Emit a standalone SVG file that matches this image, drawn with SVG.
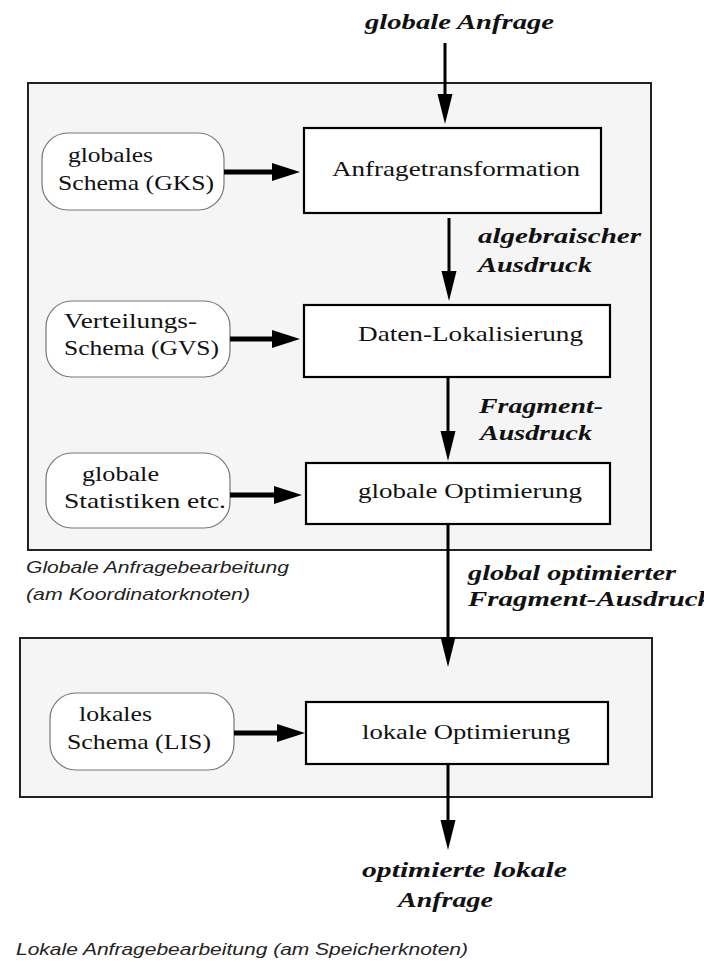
<svg xmlns="http://www.w3.org/2000/svg" width="704" height="966" viewBox="0 0 704 966">
  <style>
    .frame { fill: #f5f5f5; stroke: #222; stroke-width: 2; }
    .proc { fill: #ffffff; stroke: #000; stroke-width: 2.2; }
    .src { fill: #ffffff; stroke: #777; stroke-width: 1.2; }
    .t { font-family: "Liberation Serif", "Times New Roman", serif; font-size: 21px; fill: #111; }
    .lbl { font-family: "Liberation Serif", "Times New Roman", serif; font-size: 20px; font-weight: bold; font-style: italic; fill: #111; }
    .cap { font-family: "Liberation Sans", Arial, sans-serif; font-size: 17px; font-style: italic; fill: #222; }
    .vline { stroke: #000; stroke-width: 3; fill: none; }
    .hline { stroke: #000; stroke-width: 5; fill: none; }
  </style>
  <defs>
    <marker id="headV" markerUnits="userSpaceOnUse" markerWidth="30" markerHeight="16" refX="3" refY="8" orient="auto">
      <path d="M0,0.5 L30,8 L0,15.5 z" fill="#000"/>
    </marker>
    <marker id="headH" markerUnits="userSpaceOnUse" markerWidth="28" markerHeight="18" refX="3" refY="9" orient="auto">
      <path d="M0,0 L28,9 L0,18 z" fill="#000"/>
    </marker>
  </defs>

  <!-- background -->
  <rect x="0" y="0" width="704" height="966" fill="#ffffff"/>

  <!-- region frames -->
  <g id="global-frame">
    <rect class="frame" x="28" y="83" width="623" height="467"/>
    <text class="cap" x="26" y="573" textLength="263" lengthAdjust="spacingAndGlyphs">Globale Anfragebearbeitung</text>
    <text class="cap" x="26" y="600" textLength="224" lengthAdjust="spacingAndGlyphs">(am Koordinatorknoten)</text>
  </g>
  <g id="local-frame">
    <rect class="frame" x="20" y="638" width="632" height="159"/>
    <text class="cap" x="16" y="955" textLength="452" lengthAdjust="spacingAndGlyphs">Lokale Anfragebearbeitung (am Speicherknoten)</text>
  </g>

  <!-- processing steps -->
  <g id="anfragetransformation">
    <rect class="proc" x="304" y="128" width="297" height="85"/>
    <text class="t" x="332" y="176" textLength="248" lengthAdjust="spacingAndGlyphs">Anfragetransformation</text>
  </g>
  <g id="daten-lokalisierung">
    <rect class="proc" x="304" y="305" width="306" height="72"/>
    <text class="t" x="358" y="341" textLength="225" lengthAdjust="spacingAndGlyphs">Daten-Lokalisierung</text>
  </g>
  <g id="globale-optimierung">
    <rect class="proc" x="306" y="463" width="304" height="61"/>
    <text class="t" x="358" y="498" textLength="224" lengthAdjust="spacingAndGlyphs">globale Optimierung</text>
  </g>
  <g id="lokale-optimierung">
    <rect class="proc" x="306" y="702" width="302" height="62"/>
    <text class="t" x="362" y="739" textLength="208" lengthAdjust="spacingAndGlyphs">lokale Optimierung</text>
  </g>

  <!-- metadata sources -->
  <g id="gks">
    <rect class="src" x="42" y="133" width="182" height="77" rx="26" ry="26"/>
    <text class="t" x="68" y="162" textLength="85" lengthAdjust="spacingAndGlyphs">globales</text>
    <text class="t" x="58" y="190" textLength="156" lengthAdjust="spacingAndGlyphs">Schema (GKS)</text>
  </g>
  <g id="gvs">
    <rect class="src" x="46" y="301" width="184" height="76" rx="26" ry="26"/>
    <text class="t" x="64" y="328" textLength="133" lengthAdjust="spacingAndGlyphs">Verteilungs-</text>
    <text class="t" x="64" y="355" textLength="155" lengthAdjust="spacingAndGlyphs">Schema (GVS)</text>
  </g>
  <g id="statistiken">
    <rect class="src" x="46" y="453" width="184" height="75" rx="26" ry="26"/>
    <text class="t" x="82" y="481" textLength="77" lengthAdjust="spacingAndGlyphs">globale</text>
    <text class="t" x="64" y="508" textLength="162" lengthAdjust="spacingAndGlyphs">Statistiken etc.</text>
  </g>
  <g id="lis">
    <rect class="src" x="50" y="693" width="184" height="77" rx="26" ry="26"/>
    <text class="t" x="79" y="721" textLength="73" lengthAdjust="spacingAndGlyphs">lokales</text>
    <text class="t" x="67" y="749" textLength="144" lengthAdjust="spacingAndGlyphs">Schema (LIS)</text>
  </g>

  <!-- flow labels -->
  <g id="labels">
    <text class="lbl" x="365" y="29" textLength="189" lengthAdjust="spacingAndGlyphs">globale Anfrage</text>
    <text class="lbl" x="478" y="243" textLength="163" lengthAdjust="spacingAndGlyphs">algebraischer</text>
    <text class="lbl" x="478" y="272" textLength="114" lengthAdjust="spacingAndGlyphs">Ausdruck</text>
    <text class="lbl" x="479" y="413" textLength="124" lengthAdjust="spacingAndGlyphs">Fragment-</text>
    <text class="lbl" x="480" y="440" textLength="112" lengthAdjust="spacingAndGlyphs">Ausdruck</text>
    <text class="lbl" x="468" y="580" textLength="208" lengthAdjust="spacingAndGlyphs">global optimierter</text>
    <text class="lbl" x="468" y="606" textLength="244" lengthAdjust="spacingAndGlyphs">Fragment-Ausdruck</text>
    <text class="lbl" x="362" y="877" textLength="205" lengthAdjust="spacingAndGlyphs">optimierte lokale</text>
    <text class="lbl" x="398" y="907" textLength="95" lengthAdjust="spacingAndGlyphs">Anfrage</text>
  </g>

  <!-- connectors -->
  <g id="connectors">
    <line class="vline" x1="445" y1="43" x2="445" y2="97" marker-end="url(#headV)"/>
    <line class="vline" x1="449" y1="218" x2="449" y2="274" marker-end="url(#headV)"/>
    <line class="vline" x1="448" y1="377" x2="448" y2="434" marker-end="url(#headV)"/>
    <line class="vline" x1="448" y1="524" x2="448" y2="640" marker-end="url(#headV)"/>
    <line class="vline" x1="448" y1="764" x2="448" y2="823" marker-end="url(#headV)"/>

    <line class="hline" x1="224" y1="172" x2="275" y2="172" marker-end="url(#headH)"/>
    <line class="hline" x1="230" y1="339" x2="275" y2="339" marker-end="url(#headH)"/>
    <line class="hline" x1="230" y1="495" x2="277" y2="495" marker-end="url(#headH)"/>
    <line class="hline" x1="234" y1="733" x2="280" y2="733" marker-end="url(#headH)"/>
  </g>
</svg>
